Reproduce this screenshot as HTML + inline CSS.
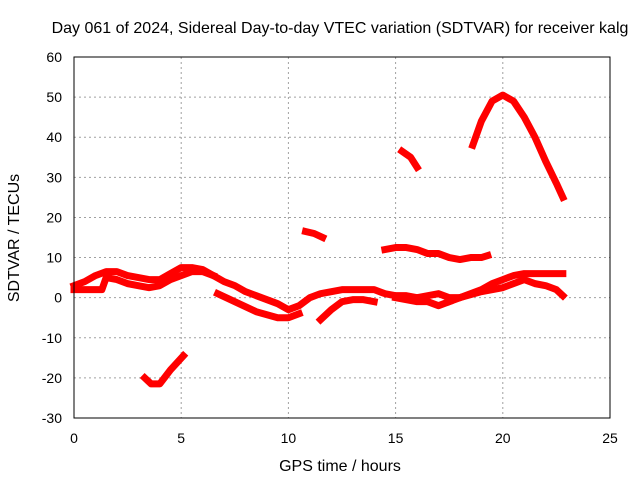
<!DOCTYPE html>
<html><head><meta charset="utf-8"><style>
body{margin:0;background:#fff}
svg{display:block;font-family:"Liberation Sans",sans-serif;font-size:14px}
.big{font-size:16px}
</style></head><body>
<svg id="chart" width="640" height="480">
<rect width="640" height="480" fill="#fff"/>
<text class="big" x="340" y="33" text-anchor="middle">Day 061 of 2024, Sidereal Day-to-day VTEC variation (SDTVAR) for receiver kalg</text>
<text class="big" x="340" y="471" text-anchor="middle">GPS time / hours</text>
<text class="big" transform="translate(19,238) rotate(-90)" text-anchor="middle">SDTVAR / TECUs</text>
<g id="grid"></g><g id="series"></g>
<rect x="74" y="57" width="536" height="361" fill="none" stroke="#000" stroke-width="1"/>
</svg>
<script>
const xTicks=[0,5,10,15,20,25];
const yTicks=[-30,-20,-10,0,10,20,30,40,50,60];
const s1h=[0,0.5,1,1.5,2,2.5,3,3.5,4,4.5,5,5.5,6,6.5,7,7.5,8,8.5,9,9.5,10,10.5,11,11.5,12,12.5,13,13.5,14,14.5,15,15.5,16,16.5,17,17.5,18,18.5,19,19.5,20,20.5,21,21.5,22,22.5,22.8];
const s1v=[3,4,5.5,6.5,6.5,5.5,5,4.5,4.5,6,7.5,7.5,7,5.5,4,3,1.5,0.5,-0.5,-1.5,-3,-2,0,1,1.5,2,2,2,2,1,0.5,0.5,0,0.5,1,0,0,1,2,3.5,4.5,5.5,6,6,6,6,6];
const s2h=[0,0.5,1.3,1.5,2,2.5,3,3.5,4,4.5,5,5.5,6,6.5];
const s2v=[2,2,2,5,4.5,3.5,3,2.5,3,4.5,5.5,6.5,6.5,5.5];
const s3h=[6.7,7.5,8.5,9.5,10,10.5];
const s3v=[1,-1,-3.5,-5,-5,-4];
const s4h=[11.5,12,12.5,13,13.5,14];
const s4v=[-5.5,-3,-1,-0.5,-0.5,-1];
const s5h=[3.3,3.6,4,4.5,5.1];
const s5v=[-20,-21.5,-21.5,-18,-14.5];
const s6h=[10.8,11.2,11.6];
const s6v=[16.5,16,15];
const s7h=[14.5,15,15.5,16,16.5,17,17.5,18,18.5,19,19.3];
const s7v=[12,12.5,12.5,12,11,11,10,9.5,10,10,10.5];
const s8h=[15.3,15.7,16];
const s8v=[36.5,35,32.5];
const s9h=[18.6,19,19.5,20,20.5,21,21.5,22,22.5,22.8];
const s9v=[38,44,49,50.5,49,45,40,34,28.5,25];
const s10h=[17.5,18,19,20,20.5,21,21.5,22,22.5,22.8];
const s10v=[-1,0,1.5,2.5,3.5,4.5,3.5,3,2,0.5];
const s11h=[15,16,16.5,17,17.5];
const s11v=[0,-1,-1,-2,-1];
const X=h=>74+h*536/25, Y=v=>418-(v+30)*361/90;
const NS="http://www.w3.org/2000/svg";
const svg=document.getElementById('chart'),g=document.getElementById('grid'),sg=document.getElementById('series');
xTicks.forEach(t=>{
 const l=document.createElementNS(NS,'line');
 
 
 l.setAttribute('x1',X(t));l.setAttribute('x2',X(t));l.setAttribute('y1',57);l.setAttribute('y2',418);
 l.setAttribute('stroke',(t==0||t==25)?'none':'#a0a0a0');l.setAttribute('stroke-dasharray','2,3');g.appendChild(l);
 const tk=document.createElementNS(NS,'text');
 
 
 tk.setAttribute('x',X(t));tk.setAttribute('y',443);tk.setAttribute('text-anchor','middle');tk.textContent=t;g.appendChild(tk);
});
yTicks.forEach(t=>{
 const l=document.createElementNS(NS,'line');
 
 
 l.setAttribute('x1',74);l.setAttribute('x2',610);l.setAttribute('y1',Y(t));l.setAttribute('y2',Y(t));
 l.setAttribute('stroke',(t==-30||t==60)?'none':'#a0a0a0');l.setAttribute('stroke-dasharray','2,3');g.appendChild(l);
 const tk=document.createElementNS(NS,'text');
 
 
 tk.setAttribute('x',62);tk.setAttribute('y',Y(t)+5);tk.setAttribute('text-anchor','end');tk.textContent=t;g.appendChild(tk);
});
const all=[[s1h,s1v],[s2h,s2v],[s3h,s3v],[s4h,s4v],[s5h,s5v],[s6h,s6v],[s7h,s7v],[s8h,s8v],[s9h,s9v],[s10h,s10v],[s11h,s11v]];
all.forEach(([hs,vs],i)=>{
 const p=document.createElementNS(NS,'polyline');
 
 
 p.setAttribute('points',hs.map((h,j)=>X(h)+','+Y(vs[j])).join(' '));
 p.setAttribute('fill','none');p.setAttribute('stroke','#ff0000');p.setAttribute('stroke-width','7');
 p.setAttribute('stroke-linejoin','round');p.setAttribute('stroke-linecap','square');
 sg.appendChild(p);
});
</script>
</body></html>
